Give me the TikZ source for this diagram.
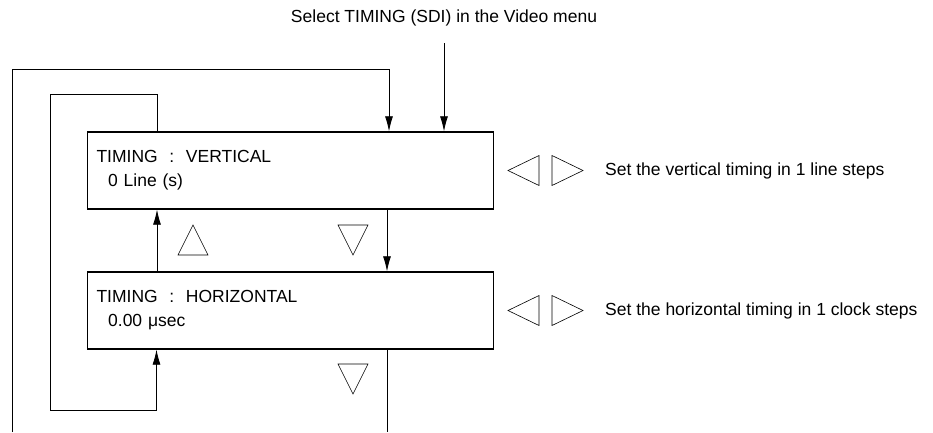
\documentclass[tikz,border=0pt]{standalone}
\usepackage{fontspec}
\setmainfont{Liberation Sans}
\usetikzlibrary{arrows.meta}

\tikzset{
  menubox/.style={draw, line width=1.4pt, minimum width=406pt, minimum height=77pt,
    text width=388pt, align=left, inner sep=0pt},
  flow/.style={line width=0.8pt, -{Latex[length=15pt,width=8pt]}},
  keytri/.style={line width=0.6pt},
  note/.style={anchor=west, inner sep=0pt}
}

\begin{document}
\begin{tikzpicture}[x=1pt, y=-1pt, font=\fontsize{17.5}{24}\selectfont]
  \useasboundingbox (0,0) rectangle (933,432);

  % title and the two menu boxes
  \node (title) at (444,18) {Select TIMING (SDI) in the Video menu};
  \node[menubox] (vert) at (290.5,170.5) {TIMING\ \ :\ \ VERTICAL\\\ \ 0 Line (s)};
  \node[menubox] (horiz) at (290.5,310.5) {TIMING\ \ :\ \ HORIZONTAL\\\ \ 0.00 μsec};

  % free ends at the bottom edge
  \coordinate (loopin) at (12.7,432);
  \coordinate (loopout) at (387,432);

  % entry and outer loop
  \draw[flow] (title) ++(0,25) -- (title.center |- vert.north);
  \draw[flow] (loopin) |- (389,69.5) -- (389,0 |- vert.north);

  % inner loop
  \draw[flow] (157,0 |- vert.north) |- (50,94.7) |- (156.5,410.7) -- (156.5,0 |- horiz.south);
  \draw[flow] (157,0 |- horiz.north) -- (157,0 |- vert.south);
  \draw[flow] (387,0 |- vert.south) -- (387,0 |- horiz.north);
  \draw[line width=0.8pt] (387,0 |- horiz.south) -- (loopout);

  % up / down keys
  \draw[keytri] (178,255) -- (208,255) -- (193,225) -- cycle;
  \draw[keytri] (338,225) -- (368,225) -- (353,255) -- cycle;
  \draw[keytri] (338,364) -- (368,364) -- (353,394) -- cycle;

  % left / right keys
  \foreach \y in {170.5,310.5} {
    \draw[keytri] (508,\y) -- (539,\y-15) -- (539,\y+15) -- cycle;
    \draw[keytri] (583,\y) -- (552,\y-15) -- (552,\y+15) -- cycle;
  }

  \node[note] (vnote) at (605,170.5) {Set the vertical timing in 1 line steps};
  \node[note] (hnote) at (605,310.5) {Set the horizontal timing in 1 clock steps};
\end{tikzpicture}
\end{document}
